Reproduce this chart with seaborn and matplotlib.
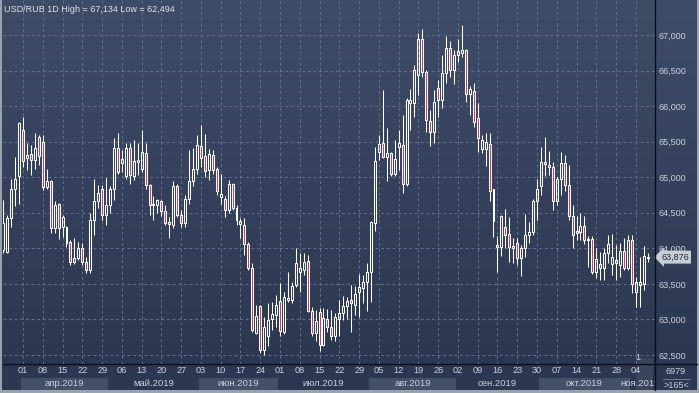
import numpy as np
import pandas as pd
import matplotlib
matplotlib.use("Agg")
import matplotlib.pyplot as plt
from matplotlib.colors import LinearSegmentedColormap
from matplotlib.patches import Rectangle
from matplotlib.lines import Line2D
import seaborn as sns

# daily OHLC, USD/RUB, from 25 Mar 2019
opens = [63.98, 63.95, 64.42, 64.84, 65.02,
         65.67, 65.27, 65.33, 65.24, 65.56, 65.50, 64.86, 64.95, 64.28, 64.62,
         64.30, 64.30, 64.09, 63.81, 63.87, 64.00, 63.81, 63.69, 64.40, 64.66,
         64.84, 64.47, 64.61, 64.83, 65.41, 65.20, 65.01, 65.41, 65.02, 65.22,
         65.12, 65.34, 64.89, 64.61, 64.61, 64.66, 64.53, 64.34, 64.33, 64.88,
         64.47, 64.35, 64.69, 64.95, 65.11, 65.44, 65.30, 65.10, 65.31, 65.11,
         64.72, 64.70, 64.54, 64.90, 64.56, 64.34, 64.33, 64.06, 63.73, 62.81,
         63.19, 62.57, 62.76, 63.00, 63.06, 63.26, 62.83, 63.28, 63.28, 63.48,
         63.67, 63.69, 63.82, 63.12, 62.81, 63.11, 62.64, 63.00, 62.90, 62.76,
         63.00, 63.09, 63.19, 63.27, 63.20, 63.39, 63.44, 63.52, 63.66, 64.35,
         65.36, 65.48, 65.29, 65.34, 65.05, 65.43, 65.45, 64.90, 66.05, 66.04,
         66.44, 66.95, 66.48, 65.79, 65.64, 66.25, 66.09, 66.46, 66.81, 66.51,
         66.72, 66.75, 66.79, 66.17, 66.21, 65.83, 65.39, 65.39, 65.47, 64.83,
         64.02, 64.02, 64.30, 64.20, 64.00, 64.07, 63.86, 64.01, 64.19, 64.23,
         64.66, 64.87, 65.21, 65.14, 65.14, 64.67, 64.97, 65.20, 64.89, 64.45,
         64.22, 64.23, 64.31, 64.11, 64.13, 63.66, 63.78, 63.72, 63.93, 63.78,
         63.80, 63.77, 63.96, 63.72, 64.12, 63.38, 63.52, 63.50, 63.87]
highs = [64.68, 64.47, 64.98, 65.29, 65.78,
         65.85, 65.48, 65.45, 65.62, 65.59, 65.59, 65.11, 64.96, 64.66, 64.64,
         64.47, 64.31, 64.12, 64.14, 64.09, 64.07, 63.88, 64.49, 64.97, 64.89,
         64.89, 64.99, 64.88, 65.55, 65.62, 65.38, 65.48, 65.48, 65.52, 65.48,
         65.67, 65.48, 64.91, 64.73, 64.70, 64.68, 64.61, 64.44, 64.94, 64.91,
         64.54, 64.75, 65.38, 65.41, 65.59, 65.73, 65.61, 65.39, 65.38, 65.14,
         65.05, 64.73, 64.96, 64.92, 64.61, 64.42, 64.42, 64.09, 63.79, 63.20,
         63.20, 63.04, 63.23, 63.24, 63.34, 63.51, 63.39, 63.66, 63.52, 64.00,
         63.93, 63.93, 63.91, 63.18, 63.13, 63.16, 63.16, 63.15, 63.13, 63.09,
         63.28, 63.33, 63.32, 63.48, 63.47, 63.64, 63.62, 63.80, 64.38, 65.43,
         65.59, 66.23, 65.69, 65.36, 65.53, 65.67, 65.87, 66.11, 66.24, 66.58,
         67.03, 67.09, 66.51, 65.95, 66.23, 66.37, 66.72, 66.98, 66.92, 66.79,
         66.94, 67.134, 66.80, 66.28, 66.32, 66.04, 65.59, 65.62, 65.62, 64.84,
         64.17, 64.47, 64.55, 64.44, 64.14, 64.14, 64.05, 64.48, 64.37, 64.70,
         64.98, 65.43, 65.57, 65.37, 65.22, 65.00, 65.36, 65.31, 65.17, 64.61,
         64.45, 64.50, 64.45, 64.17, 64.17, 64.00, 63.95, 64.00, 64.19, 64.20,
         64.05, 64.08, 64.15, 64.19, 64.19, 63.60, 63.88, 64.03, 63.93]
lows = [63.93, 63.93, 64.30, 64.59, 64.63,
        65.15, 65.10, 65.03, 65.12, 65.17, 64.82, 64.84, 64.21, 64.22, 64.13,
        64.16, 64.02, 63.77, 63.78, 63.84, 63.77, 63.65, 63.65, 64.19, 64.56,
        64.40, 64.33, 64.49, 64.68, 65.05, 65.08, 64.98, 64.91, 64.96, 65.03,
        65.08, 64.84, 64.47, 64.40, 64.49, 64.45, 64.33, 64.14, 64.28, 64.44,
        64.30, 64.30, 64.63, 64.87, 65.05, 65.15, 65.00, 64.96, 65.05, 64.75,
        64.63, 64.44, 64.50, 64.54, 64.33, 64.14, 63.91, 63.70, 62.83, 62.80,
        62.53, 62.494, 62.62, 62.85, 62.90, 62.77, 62.80, 63.24, 63.23, 63.46,
        63.39, 63.62, 63.11, 62.76, 62.69, 62.56, 62.63, 62.83, 62.71, 62.70,
        62.76, 62.99, 63.00, 62.83, 63.06, 63.04, 63.23, 63.12, 63.25, 64.25,
        65.24, 65.27, 64.94, 65.01, 65.01, 65.10, 64.78, 64.87, 65.66, 65.85,
        66.16, 66.41, 65.63, 65.44, 65.48, 65.84, 65.98, 66.32, 66.41, 66.31,
        66.62, 66.69, 66.06, 65.87, 65.71, 65.36, 65.34, 65.16, 64.66, 64.16,
        63.66, 63.89, 64.00, 63.81, 63.79, 63.77, 63.61, 63.88, 64.08, 64.19,
        64.40, 64.75, 65.02, 65.03, 64.54, 64.61, 64.75, 64.80, 64.40, 64.00,
        64.12, 64.12, 64.06, 63.74, 63.64, 63.58, 63.56, 63.55, 63.79, 63.63,
        63.56, 63.60, 63.69, 63.69, 63.37, 63.17, 63.18, 63.41, 63.81]
closes = [64.35, 64.42, 64.84, 64.98, 65.76,
          65.23, 65.31, 65.24, 65.41, 65.30, 64.86, 64.95, 64.28, 64.61, 64.29,
          64.44, 64.08, 63.81, 63.87, 64.01, 63.81, 63.69, 64.40, 64.66, 64.78,
          64.47, 64.61, 64.84, 65.41, 65.08, 65.25, 65.41, 65.03, 65.23, 65.24,
          65.36, 64.89, 64.61, 64.63, 64.68, 64.52, 64.35, 64.37, 64.88, 64.47,
          64.35, 64.70, 64.95, 65.12, 65.45, 65.27, 65.09, 65.32, 65.10, 64.80,
          64.76, 64.54, 64.90, 64.56, 64.40, 64.39, 64.06, 63.73, 62.85, 63.05,
          62.57, 62.89, 62.99, 63.07, 63.20, 62.84, 63.31, 63.30, 63.47, 63.80,
          63.72, 63.81, 63.12, 62.81, 62.98, 62.64, 63.02, 62.90, 62.76, 63.04,
          63.09, 63.19, 63.26, 63.23, 63.36, 63.45, 63.52, 63.66, 64.37, 65.23,
          65.47, 65.29, 65.34, 65.05, 65.25, 65.48, 64.90, 66.09, 66.09, 66.51,
          66.95, 66.48, 65.80, 65.64, 66.06, 66.09, 66.46, 66.81, 66.51, 66.72,
          66.77, 66.79, 66.17, 66.24, 65.77, 65.55, 65.53, 65.50, 64.80, 64.38,
          64.05, 64.45, 64.19, 64.02, 64.03, 63.86, 64.00, 64.19, 64.23, 64.66,
          64.84, 65.21, 65.18, 65.17, 64.67, 64.98, 65.20, 64.89, 64.45, 64.19,
          64.24, 64.31, 64.11, 64.13, 63.66, 63.85, 63.72, 63.93, 64.06, 63.88,
          63.83, 63.96, 63.72, 64.12, 63.50, 63.52, 63.48, 63.89, 63.876]

day_labels = ["01", "08", "15", "22", "29", "06", "13", "20", "27", "03", "10",
              "17", "24", "01", "08", "15", "22", "29", "05", "12", "19", "26",
              "02", "09", "16", "23", "30", "07", "14", "21", "28", "04"]
month_names = ["апр.2019", "май.2019", "июн.2019", "июл.2019",
               "авг.2019", "сен.2019", "окт.2019", "ноя.2019"]
y_ticks = [62.5, 63.0, 63.5, 64.0, 64.5, 65.0, 65.5, 66.0, 66.5, 67.0]
y_labels = ["62,500", "63,000", "63,500", "64,000", "64,500",
            "65,000", "65,500", "66,000", "66,500", "67,000"]

sns.set_style("dark")
plt.rcParams["font.family"] = ["Liberation Sans", "DejaVu Sans"]

W, H = 699, 393
TXT = "#c9d0de"


def box(x0, y0, x1, y1):
    # pixel box measured from the top-left corner -> figure fractions
    return [x0 / W, 1 - y1 / H, (x1 - x0) / W, (y1 - y0) / H]


fig = plt.figure(figsize=(W / 100, H / 100), dpi=100)
fig.patch.set_facecolor("#2c3751")

# gradient background behind the price area and the right scale
bg = fig.add_axes(box(0, 0, W, 364))
bg.axis("off")
cmap = LinearSegmentedColormap.from_list("bg", ["#3f4c68", "#2c3751"])
bg.imshow(np.linspace(0, 1, 256)[:, None], aspect="auto", cmap=cmap,
          extent=[0, 1, 0, 1])
bg.set_xlim(0, 1)
bg.set_ylim(0, 1)

o = np.array(opens)
h = np.array(highs)
l = np.array(lows)
c = np.array(closes)
x = np.arange(len(o))
dates = pd.bdate_range("2019-03-25", periods=len(o))

ax = fig.add_axes(box(3, 0, 655, 364))
ax.set_facecolor("none")
up = c >= o
lo_b = np.minimum(o, c)
hi_b = np.maximum(o, c)
ax.vlines(x, hi_b, h, color="white", lw=0.75, zorder=3)
ax.vlines(x, l, lo_b, color="white", lw=0.75, zorder=3)
ax.bar(x[up], (hi_b - lo_b)[up], bottom=lo_b[up], width=0.5,
       facecolor="none", edgecolor="white", linewidth=0.75, zorder=3)
ax.bar(x[~up], (hi_b - lo_b)[~up], bottom=lo_b[~up], width=0.5,
       facecolor="#c23a5a", edgecolor="white", linewidth=0.75, zorder=3)

tick_pos = x[(dates.dayofweek == 0) & (dates >= "2019-04-01")]
ax.set_xlim(-0.06, len(o) - 1 + 1.85)
ax.set_ylim(62.373, 67.492)
ax.set_xticks(tick_pos)
ax.set_xticklabels([])
ax.set_yticks(y_ticks)
ax.set_yticklabels(y_labels)
ax.yaxis.tick_right()
ax.tick_params(axis="both", length=0)
ax.tick_params(axis="y", pad=2.5, labelsize=6.5, labelcolor=TXT)
ax.grid(True, color="#66728d", ls=(0, (2.8, 3)), lw=0.7)
for s in ax.spines.values():
    s.set_visible(False)

# last price marker
ax.annotate(f"{c[-1]:.3f}".replace(".", ","), xy=(1, c[-1]),
            xycoords=("axes fraction", "data"), xytext=(4.5, 0),
            textcoords="offset points", ha="left", va="center",
            fontsize=6.5, color="#222a3c", annotation_clip=False,
            bbox=dict(boxstyle="larrow,pad=0.22", fc="#c9cdd6", ec="none"))

# date scale
axb = fig.add_axes(box(3, 364, 655, 390))
axb.set_facecolor("#2c3751")
axb.set_xlim(ax.get_xlim())
axb.set_ylim(0, 1)
axb.axis("off")
for j, m in enumerate(range(4, 12)):
    idx = x[dates.month == m]
    if j % 2 == 0:
        axb.add_patch(Rectangle((idx[0] - 0.5, 0), idx[-1] - idx[0] + 1, 0.48,
                                facecolor="#435069", edgecolor="none"))
    axb.text((idx[0] + idx[-1]) / 2, 0.26, month_names[j], ha="center",
             va="center", fontsize=6.8, color=TXT, clip_on=True)
for p, lab in zip(tick_pos, day_labels):
    axb.text(p, 0.74, lab, ha="center", va="center", fontsize=6.6,
             color=TXT, clip_on=True)

# scroll marker at the right end of the date scale
fig.patches.append(Rectangle((636 / W, 1 - 392 / H), 17 / W, 34 / H,
                             transform=fig.transFigure, facecolor="white",
                             alpha=0.07, edgecolor="none"))
fig.text(638 / W, 1 - 357 / H, "1", fontsize=6.5, color=TXT,
         ha="center", va="center")

# bottom-right cell
fig.text(676 / W, 1 - 372 / H, "6979", fontsize=6.5, color=TXT,
         ha="center", va="center")
fig.text(676 / W, 1 - 385 / H, ">165<", fontsize=6.5, color=TXT,
         ha="center", va="center")
fig.add_artist(Line2D([663 / W, 690 / W], [1 - 378.5 / H] * 2,
                      color="#7d869a", lw=0.6))

# separators and frame
fig.add_artist(Line2D([3 / W, 697 / W], [1 - 364 / H] * 2, color="#0b0e16", lw=1))
fig.add_artist(Line2D([655 / W, 655 / W], [1 - 390 / H, 1], color="#0b0e16", lw=1))
for rect in [(0, 0, 2, H), (697, 0, 2, H), (0, 390, W, 3)]:
    fig.patches.append(Rectangle((rect[0] / W, 1 - (rect[1] + rect[3]) / H),
                                 rect[2] / W, rect[3] / H,
                                 transform=fig.transFigure,
                                 facecolor="#9aa2ae", edgecolor="none"))

title = (f"USD/RUB 1D High = {h.max():.3f} Low = {l.min():.3f}").replace(".", ",")
fig.text(4 / W, 1 - 9 / H, title.replace("USD,RUB", "USD/RUB"),
         fontsize=6.5, color="#dde1ea", va="center")

fig.savefig("out.png", dpi=100, facecolor=fig.get_facecolor())
